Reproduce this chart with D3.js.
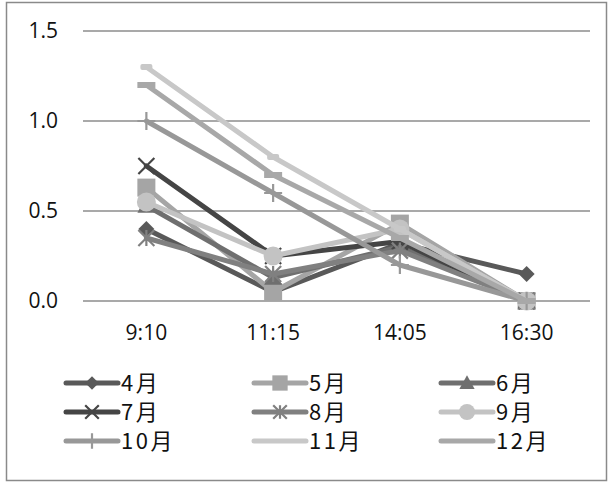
<!DOCTYPE html>
<html><head><meta charset="utf-8">
<script src="https://cdn.jsdelivr.net/npm/d3@7"></script>
<style>body{margin:0;background:#fff}svg{display:block}</style>
</head><body><div id="chart"></div>
<script>
const times = ["9:10","11:15","14:05","16:30"];
const seriesNames = ["4月","5月","6月","7月","8月","9月","10月","11月","12月"];
const m4  = [0.40, 0.05, 0.32, 0.15];
const m5  = [0.63, 0.05, 0.43, 0.00];
const m6  = [0.53, 0.13, 0.30, 0.00];
const m7  = [0.75, 0.25, 0.33, 0.00];
const m8  = [0.35, 0.15, 0.28, 0.00];
const m9  = [0.55, 0.25, 0.40, 0.00];
const m10 = [1.00, 0.60, 0.20, 0.00];
const m11 = [1.30, 0.80, 0.40, 0.00];
const m12 = [1.20, 0.70, 0.35, 0.00];
const yTicks = [0, 0.5, 1.0, 1.5];

const seriesValues = [m4,m5,m6,m7,m8,m9,m10,m11,m12];
const colors = ["#595959","#a5a5a5","#6f6f6f","#454545","#808080","#c3c3c3","#989898","#c8c8c8","#a8a8a8"];
const markers = ["diamond","square","triangle","x","star","circle","plus","dashS","dashL"];

const W = 615, H = 484;
const svg = d3.select("#chart").append("svg").attr("width", W).attr("height", H);
svg.append("rect").attr("x",6.5).attr("y",2.5).attr("width",600).attr("height",478)
  .attr("fill","#fff").attr("stroke","#8a8a8a").attr("stroke-width",1.5);

const x = d3.scaleBand().domain(times).range([83, 590]);
const y = d3.scaleLinear().domain([0, 1.5]).range([301, 31]);

svg.append("g").selectAll("line").data(yTicks).join("line")
  .attr("x1",83).attr("x2",590).attr("y1",d=>y(d)).attr("y2",d=>y(d))
  .attr("stroke","#8c8c8c").attr("stroke-width",1.6);

const yAxis = d3.axisLeft(y).tickValues(yTicks).tickFormat(d3.format(".1f")).tickSize(0).tickPadding(0);
const gy = svg.append("g").attr("transform","translate(58,0)").call(yAxis);
gy.select(".domain").remove();
gy.selectAll("text").attr("font-family","'Open Sans', sans-serif").attr("font-size",21).attr("fill","#111");

const xAxis = d3.axisBottom(x).tickSize(0).tickPadding(0);
const gx = svg.append("g").attr("transform","translate(0,325)").call(xAxis);
gx.select(".domain").remove();
gx.selectAll("text").attr("font-family","'Open Sans', sans-serif").attr("font-size",21).attr("fill","#111");

function drawMarker(g, type, cx, cy, color, s) {
  s = s || 1;
  if (type === "diamond") {
    const r = 8*s;
    g.append("path").attr("d",`M${cx},${cy-r}L${cx+r},${cy}L${cx},${cy+r}L${cx-r},${cy}Z`).attr("fill",color);
  } else if (type === "square") {
    const r = 9*s;
    g.append("rect").attr("x",cx-r).attr("y",cy-r).attr("width",2*r).attr("height",2*r).attr("fill",color);
  } else if (type === "triangle") {
    const r = 9*s;
    g.append("path").attr("d",`M${cx},${cy-r}L${cx+r},${cy+r*0.8}L${cx-r},${cy+r*0.8}Z`).attr("fill",color);
  } else if (type === "x") {
    const r = 8*s;
    g.append("path").attr("d",`M${cx-r},${cy-r}L${cx+r},${cy+r}M${cx+r},${cy-r}L${cx-r},${cy+r}`)
      .attr("stroke",color).attr("stroke-width",2.2);
  } else if (type === "star") {
    const r = 8*s;
    g.append("path").attr("d",`M${cx-r},${cy-r}L${cx+r},${cy+r}M${cx+r},${cy-r}L${cx-r},${cy+r}M${cx},${cy-r}L${cx},${cy+r}`)
      .attr("stroke",color).attr("stroke-width",2.2);
  } else if (type === "circle") {
    g.append("circle").attr("cx",cx).attr("cy",cy).attr("r",9.5*s).attr("fill",color);
  } else if (type === "plus") {
    const r = 9*s;
    g.append("path").attr("d",`M${cx-r},${cy}L${cx+r},${cy}M${cx},${cy-r}L${cx},${cy+r}`)
      .attr("stroke",color).attr("stroke-width",2.2);
  } else if (type === "dashS") {
    g.append("rect").attr("x",cx-6*s).attr("y",cy-3*s).attr("width",12*s).attr("height",6*s).attr("rx",2).attr("fill",color);
  } else if (type === "dashL") {
    g.append("rect").attr("x",cx-9*s).attr("y",cy-3*s).attr("width",18*s).attr("height",6*s).attr("fill",color);
  }
}

const line = d3.line().x((d,i)=>x(times[i]) + x.bandwidth()/2).y(d=>y(d));
seriesValues.forEach((vals, si) => {
  const g = svg.append("g");
  g.append("path").attr("d", line(vals)).attr("fill","none")
    .attr("stroke", colors[si]).attr("stroke-width",5).attr("stroke-linejoin","round").attr("stroke-linecap","round");
  vals.forEach((v,i) => drawMarker(g, markers[si], x(times[i]) + x.bandwidth()/2, y(v), colors[si], 1));
});

const colX = [66, 254, 441];
const rowY = [383, 412, 441];
seriesNames.forEach((name, i) => {
  const cx = colX[i % 3], cy = rowY[Math.floor(i/3)];
  const g = svg.append("g");
  g.append("line").attr("x1",cx).attr("x2",cx+52).attr("y1",cy).attr("y2",cy)
    .attr("stroke",colors[i]).attr("stroke-width",5).attr("stroke-linecap","round");
  if (markers[i] !== "dashS" && markers[i] !== "dashL")
    drawMarker(g, markers[i], cx+26, cy, colors[i], 0.85);
  g.append("text").attr("x",cx+55).attr("y",cy).attr("dy","0.36em")
    .attr("font-family","'Noto Sans CJK JP', sans-serif").attr("font-size",22).attr("letter-spacing",2.5)
    .attr("fill","#111").text(name);
});
</script></body></html>
